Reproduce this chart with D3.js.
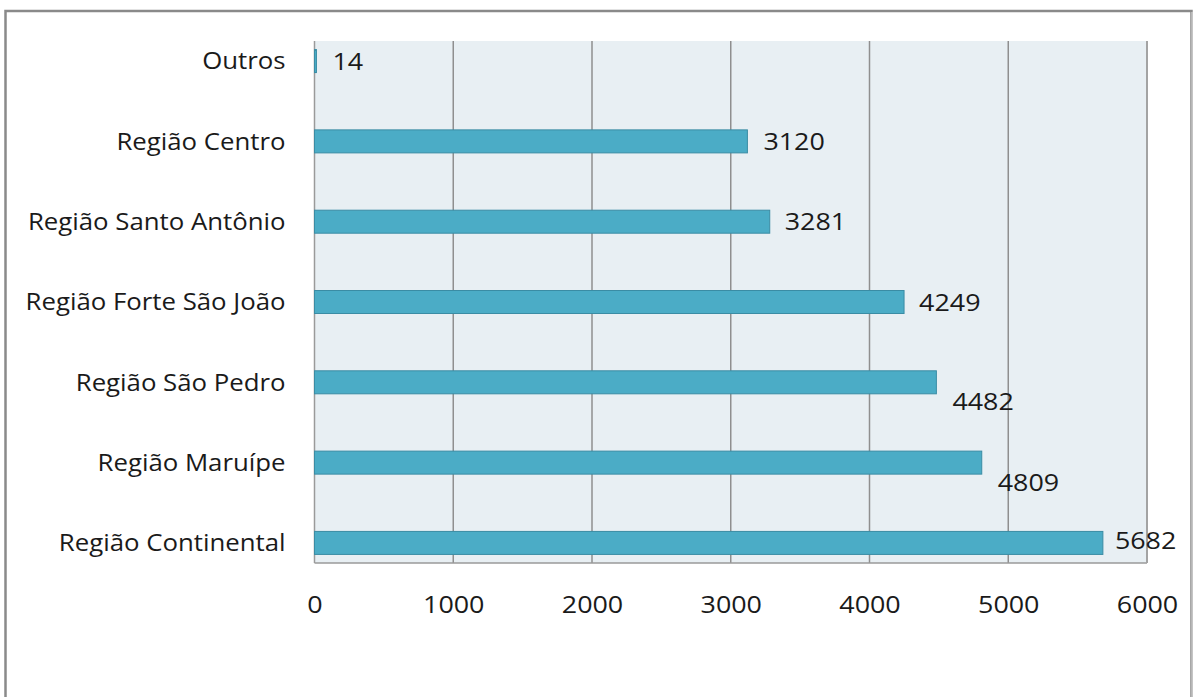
<!DOCTYPE html>
<html><head><meta charset="utf-8">
<script src="https://cdn.jsdelivr.net/npm/d3@7"></script>
<style>body{margin:0;background:#fff}svg{display:block}</style>
</head><body>
<script>
const categories = ["Outros","Região Centro","Região Santo Antônio","Região Forte São João","Região São Pedro","Região Maruípe","Região Continental"];
const values = [14,3120,3281,4249,4482,4809,5682];
const tickValues = [0,1000,2000,3000,4000,5000,6000];
const labelDy = [0,0,0,0,19.5,19.5,-3];
const labelDx = [16,16,15,15,16,16,12];

const W=1193,H=697;
const svg=d3.select("body").append("svg").attr("width",W).attr("height",H);
const font="'Open Sans', sans-serif";
const FS=24, catSX=1.074, numSX=1.12;
// outer frame
svg.append("rect").attr("x",5.5).attr("y",11).attr("width",1186).attr("height",700)
  .attr("fill","#fff").attr("stroke","#8a8a8a").attr("stroke-width",2.5);
svg.append("line").attr("x1",1192).attr("x2",1192).attr("y1",12).attr("y2",697).attr("stroke","#e4e4e4").attr("stroke-width",1);

const L=314.5,R=1147,T=41,B=563;
const x=d3.scaleLinear().domain([0,6000]).range([L,R]);
const y=d3.scalePoint().domain(categories).range([T,B]).padding(0.25);

svg.append("rect").attr("x",L).attr("y",T).attr("width",R-L).attr("height",B-T).attr("fill","#e8eff3");
// gridlines
svg.append("g").selectAll("line").data(tickValues.slice(1)).join("line")
  .attr("x1",d=>x(d)).attr("x2",d=>x(d)).attr("y1",T).attr("y2",B)
  .attr("stroke","#8f8f8f").attr("stroke-width",1.5);
// axes lines
svg.append("line").attr("x1",L).attr("x2",L).attr("y1",T).attr("y2",B).attr("stroke","#9a9a9a").attr("stroke-width",1.5);
svg.append("line").attr("x1",L).attr("x2",R).attr("y1",B).attr("y2",B).attr("stroke","#9a9a9a").attr("stroke-width",1.5);
svg.append("line").attr("x1",R).attr("x2",R).attr("y1",T).attr("y2",B).attr("stroke","#a3a3a3").attr("stroke-width",2);

const bh=23;
svg.append("g").selectAll("rect").data(values).join("rect")
  .attr("x",x(0)).attr("y",(d,i)=>y(categories[i])-bh/2)
  .attr("width",d=>x(d)-x(0)).attr("height",bh)
  .attr("fill","#4bacc6").attr("stroke","#3a8ca4").attr("stroke-width",1);

// value labels
svg.append("g").selectAll("text").data(values).join("text")
  .attr("transform",(d,i)=>`translate(${x(d)+labelDx[i]},${y(categories[i])+labelDy[i]}) scale(${numSX},1)`)
  .attr("dy","0.36em").attr("font-family",font).attr("font-size",FS).attr("fill","#1a1a1a")
  .text(d=>d);

// category labels
const yAxis=d3.axisLeft(y).tickSize(0).tickPadding(0);
const gy=svg.append("g").attr("transform",`translate(${L},0)`).call(yAxis);
gy.select(".domain").remove();
gy.selectAll("text").attr("font-family",font).attr("font-size",FS).attr("fill","#1a1a1a")
  .attr("x",-29/catSX).attr("transform",`scale(${catSX},1)`);

// x axis labels
const xAxis=d3.axisBottom(x).tickValues(tickValues).tickSize(0).tickPadding(33).tickFormat(d3.format("d"));
const gx=svg.append("g").attr("transform",`translate(0,${B})`).call(xAxis);
gx.select(".domain").remove();
gx.selectAll("text").attr("font-family",font).attr("font-size",FS).attr("fill","#1a1a1a")
  .attr("transform",`scale(${numSX},1)`);
</script>
</body></html>
